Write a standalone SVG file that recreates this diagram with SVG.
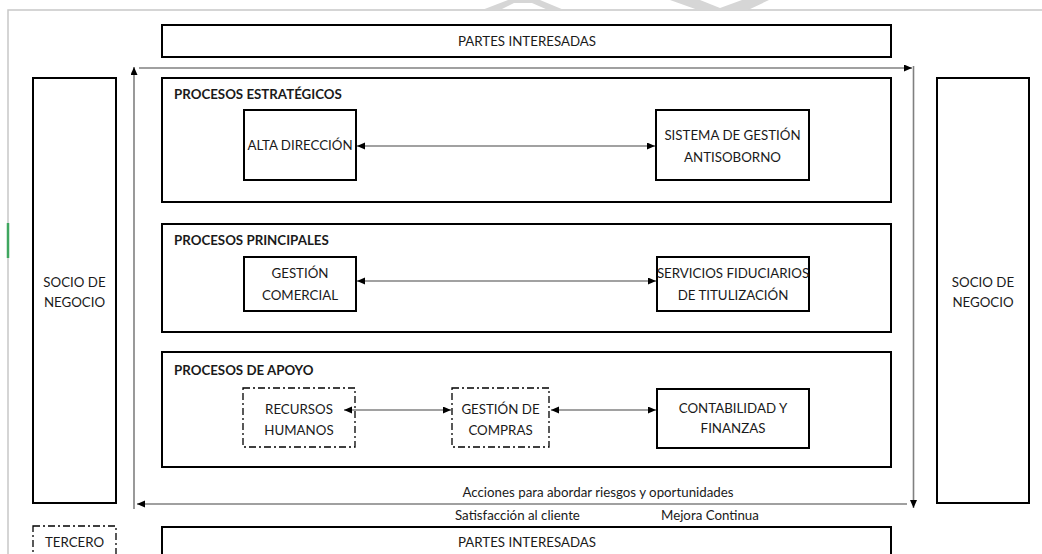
<svg xmlns="http://www.w3.org/2000/svg" width="1042" height="554" viewBox="0 0 1042 554">
<defs>
<style>
.box{fill:#fff;stroke:#000;stroke-width:2}
.dbox{fill:#fff;stroke:#000;stroke-width:1.3;stroke-dasharray:7,3,2,3}
.t{font-family:Lato,"Liberation Sans",sans-serif;font-size:13.3px;fill:#1a1a1a;text-anchor:middle}
.tl{font-family:Lato,"Liberation Sans",sans-serif;font-size:13.3px;fill:#1a1a1a}
.h{font-family:Lato,"Liberation Sans",sans-serif;font-size:13.3px;font-weight:bold;fill:#1a1a1a}
.c{fill:none;stroke:#444;stroke-width:1.2}
.loop{fill:none;stroke:#808080;stroke-width:1.6}
</style>
<marker id="ah" markerUnits="userSpaceOnUse" markerWidth="9" markerHeight="8" refX="8" refY="3.5" orient="auto-start-reverse">
<path d="M0,0 L8,3.5 L0,7 z" fill="#000"/>
</marker>
</defs>
<rect width="1042" height="554" fill="#fff"/>
<path d="M8,554 V10 H1042" fill="none" stroke="#c8c8c8" stroke-width="1.5"/>
<line x1="8" y1="223" x2="8" y2="258" stroke="#3fa65f" stroke-width="2.5"/>
<g id="watermark" fill="#d6d6d6">
<polygon points="482,10 508,0 540,0 564,10 548,10 532,3 514,3 500,10"/>
<polygon points="670,0 700,0 720,8 742,0 769,0 748,10 698,10"/>
</g>

<g id="partes-top"><rect class="box" x="162" y="25" width="729" height="32"/><text class="t" x="527" y="45.5">PARTES INTERESADAS</text></g>
<g id="socio-left"><rect class="box" x="33" y="78" width="83" height="425"/><text class="t" x="74.5" y="287">SOCIO DE</text><text class="t" x="74.5" y="307">NEGOCIO</text></g>
<g id="socio-right"><rect class="box" x="937" y="78" width="92" height="425"/><text class="t" x="983" y="287">SOCIO DE</text><text class="t" x="983" y="307">NEGOCIO</text></g>

<g id="estrategicos"><rect class="box" x="162" y="78" width="729" height="124"/><text class="h" x="174" y="99">PROCESOS ESTRATÉGICOS</text></g>
<g id="alta-direccion"><rect class="box" x="244" y="110" width="112" height="70"/><text class="t" x="300" y="150">ALTA DIRECCIÓN</text></g>
<g id="sistema-gestion"><rect class="box" x="656" y="110" width="153" height="70"/><text class="t" x="732.5" y="140">SISTEMA DE GESTIÓN</text><text class="t" x="732.5" y="161.5">ANTISOBORNO</text></g>

<g id="principales"><rect class="box" x="162" y="224" width="729" height="108"/><text class="h" x="174" y="245">PROCESOS PRINCIPALES</text></g>
<g id="gestion-comercial"><rect class="box" x="244" y="257" width="112" height="54"/><text class="t" x="300" y="278">GESTIÓN</text><text class="t" x="300" y="300">COMERCIAL</text></g>
<g id="servicios-fiduciarios"><rect class="box" x="657" y="257" width="152" height="54"/><text class="t" x="733" y="278">SERVICIOS FIDUCIARIOS</text><text class="t" x="733" y="300">DE TITULIZACIÓN</text></g>

<g id="apoyo"><rect class="box" x="162" y="352" width="729" height="115"/><text class="h" x="174" y="375">PROCESOS DE APOYO</text></g>
<g id="recursos-humanos"><rect class="dbox" x="243" y="388" width="112" height="59"/><text class="t" x="299" y="414">RECURSOS</text><text class="t" x="299" y="435">HUMANOS</text></g>
<g id="gestion-compras"><rect class="dbox" x="452" y="388" width="97" height="59"/><text class="t" x="500.5" y="414">GESTIÓN DE</text><text class="t" x="500.5" y="435">COMPRAS</text></g>
<g id="contabilidad"><rect class="box" x="657" y="389" width="152" height="59"/><text class="t" x="733" y="413">CONTABILIDAD Y</text><text class="t" x="733" y="433">FINANZAS</text></g>

<g id="tercero"><rect class="dbox" x="33" y="526" width="83" height="40"/><text class="t" x="74.5" y="547">TERCERO</text></g>
<g id="partes-bottom"><rect class="box" x="162" y="527" width="729" height="40"/><text class="t" x="527" y="547">PARTES INTERESADAS</text></g>

<g id="labels">
<text class="t" x="598" y="497">Acciones para abordar riesgos y oportunidades</text>
<text class="tl" x="455" y="520">Satisfacción al cliente</text>
<text class="tl" x="661" y="520">Mejora Continua</text>
</g>

<g id="connectors">
<line class="c" x1="357" y1="146" x2="655" y2="146" marker-start="url(#ah)" marker-end="url(#ah)"/>
<line class="c" x1="357" y1="281" x2="656" y2="281" marker-start="url(#ah)" marker-end="url(#ah)"/>
<line class="c" x1="344" y1="410" x2="451" y2="410" marker-start="url(#ah)" marker-end="url(#ah)"/>
<line class="c" x1="551" y1="410" x2="656" y2="410" marker-start="url(#ah)" marker-end="url(#ah)"/>
<line class="loop" x1="139" y1="68" x2="912" y2="68" marker-end="url(#ah)"/>
<line class="loop" x1="913.5" y1="66" x2="913.5" y2="508" marker-end="url(#ah)"/>
<line class="loop" x1="907" y1="504" x2="137" y2="504" marker-end="url(#ah)"/>
<line class="loop" x1="134" y1="509" x2="134" y2="67" marker-end="url(#ah)"/>
</g>
</svg>
